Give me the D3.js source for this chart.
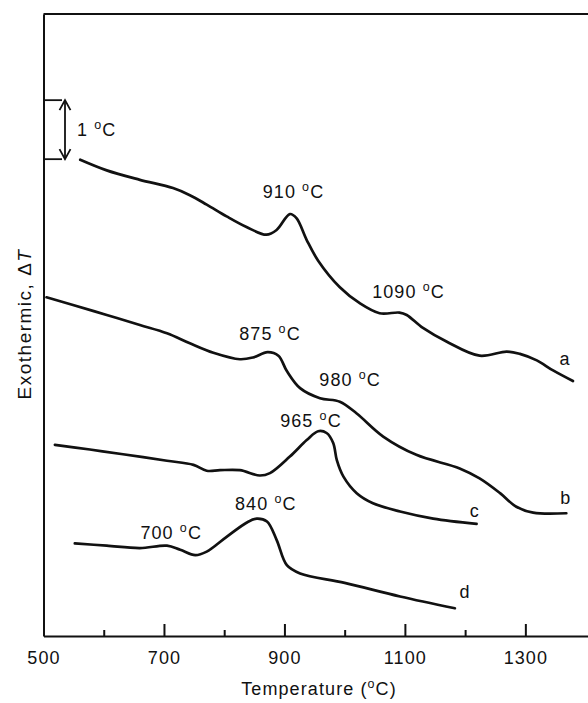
<!DOCTYPE html>
<html lang="en">
<head>
<meta charset="UTF-8">
<title>DTA curves</title>
<script src="https://cdn.jsdelivr.net/npm/d3@7"></script>
<style>
  body { margin: 0; background: #fff; }
  text { font-family: "Liberation Sans", Arial, Helvetica, sans-serif; fill: #111; }
  .lbl { font-size: 18px; letter-spacing: 1.1px; text-anchor: middle; }
  .curve { fill: none; stroke: #111; stroke-width: 2.7px; stroke-linejoin: round; stroke-linecap: round; }
  .axis path, .axis line { stroke: #111; stroke-width: 2px; }
</style>
</head>
<body>
<script>
// temperature (°C) and ΔT signal (°C, scale bar = 1 °C)
var tA = [561, 605, 660, 715, 743, 771, 804, 837, 870, 887, 909, 920, 937, 956, 992, 1025, 1058, 1091, 1103, 1130, 1169, 1224, 1269, 1291, 1319, 1346, 1379];
var vA = [8.07, 7.89, 7.73, 7.59, 7.47, 7.31, 7.11, 6.93, 6.80, 6.88, 7.15, 7.08, 6.71, 6.36, 5.91, 5.64, 5.47, 5.48, 5.44, 5.22, 4.99, 4.75, 4.82, 4.78, 4.67, 4.50, 4.32];

var tB = [505, 549, 605, 660, 705, 743, 782, 826, 848, 872, 890, 904, 926, 959, 992, 1020, 1064, 1119, 1191, 1224, 1258, 1285, 1313, 1368];
var vB = [5.74, 5.61, 5.44, 5.27, 5.13, 4.96, 4.80, 4.69, 4.72, 4.81, 4.75, 4.49, 4.20, 4.03, 3.97, 3.77, 3.38, 3.07, 2.84, 2.67, 2.42, 2.19, 2.09, 2.08];

var tC = [519, 577, 632, 705, 749, 771, 793, 826, 859, 876, 909, 937, 956, 970, 981, 987, 998, 1020, 1047, 1092, 1147, 1219];
var vC = [3.24, 3.16, 3.08, 2.97, 2.90, 2.80, 2.81, 2.81, 2.72, 2.76, 3.04, 3.32, 3.47, 3.44, 3.27, 2.98, 2.70, 2.42, 2.25, 2.11, 1.99, 1.90];

var tD = [552, 605, 660, 705, 727, 752, 771, 804, 837, 854, 871, 887, 904, 926, 1000, 1092, 1183];
var vD = [1.57, 1.53, 1.49, 1.53, 1.46, 1.37, 1.43, 1.68, 1.92, 1.99, 1.94, 1.63, 1.20, 1.06, 0.90, 0.67, 0.47];

// peak labels and curve letters
var labText = ["910 °C", "1090 °C", "a", "875 °C", "980 °C", "b", "965 °C", "c", "840 °C", "700 °C", "d"];
var labT = [915, 1106, 1366, 876, 1009, 1367, 944, 1216, 869, 712, 1200];
var labV = [7.42, 5.73, 4.59, 5.02, 4.23, 2.24, 3.54, 2.02, 2.14, 1.64, 0.64];

var majorTicks = [500, 700, 900, 1100, 1300];
var minorTicks = [600, 800, 1000, 1200];
var barTop = 9.08, barSize = 1;

var width = 588, height = 703;
var svg = d3.select("body").append("svg")
  .attr("width", width).attr("height", height);

var x = d3.scaleLinear().domain([500, 1404]).range([43.5, 588]);
var y = d3.scaleLinear().domain([0, 10.54]).range([636, 14]);

// the figure writes the degree sign as a small raised "o"
function degText(sel, s) {
  var parts = s.split("°");
  sel.append("tspan").text(parts[0]);
  if (parts.length > 1) {
    sel.append("tspan").attr("dy", -7).style("font-size", "12.5px").text("o");
    sel.append("tspan").attr("dy", 7).text(parts[1]);
  }
}

// frame: left axis + top line
svg.append("g").attr("class", "axis")
  .attr("transform", "translate(" + x(500) + ",0)")
  .call(d3.axisLeft(y).tickValues([]).tickSizeOuter(0));
svg.append("line")
  .attr("x1", x(500)).attr("x2", width)
  .attr("y1", y(10.54)).attr("y2", y(10.54))
  .attr("stroke", "#111").attr("stroke-width", 2);

// bottom axis, ticks pointing inward
var xAxis = svg.append("g").attr("class", "axis")
  .attr("transform", "translate(0," + y(0) + ")")
  .call(d3.axisBottom(x).tickValues(majorTicks).tickSize(-12).tickSizeOuter(0).tickFormat(d3.format("d")));
xAxis.selectAll("text")
  .attr("y", 28).attr("dy", 0)
  .attr("class", "lbl").attr("fill", "#111");
svg.append("g").attr("class", "axis")
  .attr("transform", "translate(0," + y(0) + ")")
  .call(d3.axisBottom(x).tickValues(minorTicks).tickSize(-6).tickSizeOuter(0).tickFormat(""))
  .select(".domain").remove();

svg.append("text").attr("class", "lbl")
  .attr("x", 319).attr("y", 695)
  .call(degText, "Temperature (°C)");

var yl = svg.append("text").attr("class", "lbl")
  .attr("transform", "translate(31," + 324 + ") rotate(-90)")
  .style("font-size", "19px").style("letter-spacing", "1.5px");
yl.append("tspan").text("Exothermic, Δ");
yl.append("tspan").style("font-style", "italic").text("T");

// curves
var line = d3.line()
  .x(function(d) { return x(d[0]); })
  .y(function(d) { return y(d[1]); })
  .curve(d3.curveCatmullRom.alpha(0.5));

[[tA, vA], [tB, vB], [tC, vC], [tD, vD]].forEach(function(s) {
  svg.append("path").attr("class", "curve")
    .attr("d", line(d3.zip(s[0], s[1])));
});

svg.selectAll(".peak").data(labText).enter().append("text")
  .attr("class", "lbl peak")
  .attr("x", function(d, i) { return x(labT[i]); })
  .attr("y", function(d, i) { return y(labV[i]); })
  .each(function(d) { degText(d3.select(this), d); });

// 1 °C scale bar
var bx = 65, y0 = y(barTop), y1 = y(barTop - barSize);
var bar = svg.append("g").attr("stroke", "#111").attr("fill", "none").attr("stroke-width", 1.8);
bar.append("line").attr("x1", x(500)).attr("x2", 62).attr("y1", y0).attr("y2", y0);
bar.append("line").attr("x1", x(500)).attr("x2", 62).attr("y1", y1).attr("y2", y1);
bar.append("line").attr("x1", bx).attr("x2", bx).attr("y1", y0).attr("y2", y1);
bar.append("polyline").attr("points", [[bx - 5.5, y0 + 10], [bx, y0], [bx + 5.5, y0 + 10]].join(" "));
bar.append("polyline").attr("points", [[bx - 5.5, y1 - 10], [bx, y1], [bx + 5.5, y1 - 10]].join(" "));
svg.append("text").attr("class", "lbl")
  .attr("x", 77).attr("y", (y0 + y1) / 2 + 6)
  .style("text-anchor", "start")
  .call(degText, "1 °C");
</script>
</body>
</html>
